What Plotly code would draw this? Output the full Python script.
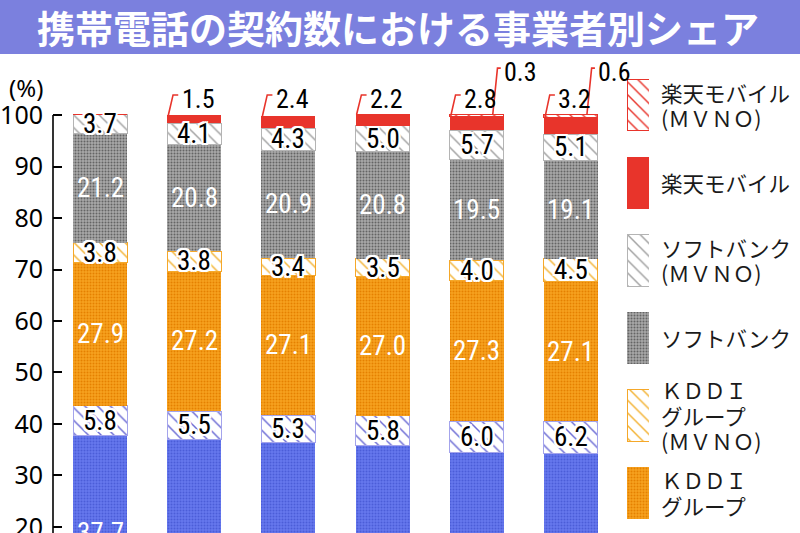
"""携帯電話の契約数における事業者別シェア — stacked share bars (Plotly)."""

import plotly.graph_objects as go

# --- data (% share, six periods left → right) -------------------------------
columns = [0, 1, 2, 3, 4, 5]

docomo = [37.7, 37.0, 36.4, 35.8, 34.5, 34.3]
docomo_mvno = [5.8, 5.5, 5.3, 5.8, 6.0, 6.2]
kddi = [27.9, 27.2, 27.1, 27.0, 27.3, 27.1]
kddi_mvno = [3.8, 3.8, 3.4, 3.5, 4.0, 4.5]
softbank = [21.2, 20.8, 20.9, 20.8, 19.5, 19.1]
softbank_mvno = [3.7, 4.1, 4.3, 5.0, 5.7, 5.1]
rakuten = [0, 1.5, 2.4, 2.2, 2.8, 3.2]
rakuten_mvno = [0, 0, 0, 0, 0.3, 0.6]

y_ticks = [20, 30, 40, 50, 60, 70, 80, 90, 100]

TITLE = "携帯電話の契約数における事業者別シェア"
NUM_FONT = "Liberation Sans Narrow, Roboto Condensed, Noto Sans, sans-serif"
JP_FONT = "Noto Sans CJK JP, Noto Sans, sans-serif"

# series bottom → top: (values, legend lines, style key)
SERIES = [
    (docomo, ["ＮＴＴ", "ドコモ"], "docomo"),
    (docomo_mvno, ["ＮＴＴ", "ドコモ", "(ＭＶＮＯ)"], "docomo_mvno"),
    (kddi, ["ＫＤＤＩ", "グループ"], "kddi"),
    (kddi_mvno, ["ＫＤＤＩ", "グループ", "(ＭＶＮＯ)"], "kddi_mvno"),
    (softbank, ["ソフトバンク"], "softbank"),
    (softbank_mvno, ["ソフトバンク", "(ＭＶＮＯ)"], "softbank_mvno"),
    (rakuten, ["楽天モバイル"], "rakuten"),
    (rakuten_mvno, ["楽天モバイル", "(ＭＶＮＯ)"], "rakuten_mvno"),
]


def _dots(bg, fg):
    return dict(color=bg, line=dict(width=0),
                pattern=dict(shape=".", bgcolor=bg, fgcolor=fg, size=3,
                             solidity=0.35, fillmode="replace"))


def _hatch(fg, edge):
    return dict(color="white", line=dict(width=1, color=edge),
                pattern=dict(shape="\\", bgcolor="white", fgcolor=fg, size=9,
                             solidity=0.16, fillmode="replace"))


STYLE = {
    "docomo": _dots("#6678ee", "#4b5dd8"),
    "docomo_mvno": _hatch("#6a6ad4", "#a4a4ec"),
    "kddi": _dots("#f7a21f", "#e58000"),
    "kddi_mvno": _hatch("#f3b232", "#f5a82a"),
    "softbank": _dots("#a8a8a8", "#646464"),
    "softbank_mvno": _hatch("#a0a0a0", "#b4b4b4"),
    "rakuten": dict(color="#e8342b", line=dict(width=0)),
    "rakuten_mvno": _hatch("#e8342b", "#e8342b"),
}

WHITE_EDGE = ("-2px -2px 0 #fff, 2px -2px 0 #fff, -2px 2px 0 #fff, 2px 2px 0 #fff, "
              "0 -2px 0 #fff, 0 2px 0 #fff, -2px 0 0 #fff, 2px 0 0 #fff")

fig = go.Figure()
annotations = []
shapes = []

bottoms = [0.0] * len(columns)
for values, _, key in SERIES:
    fig.add_trace(go.Bar(
        x=columns, y=values, width=0.573, marker=STYLE[key],
        name=key, hoverinfo="skip", xaxis="x", yaxis="y",
    ))
    for i, v in enumerate(values):
        mid = bottoms[i] + v / 2
        if v > 0 and not key.startswith("rakuten"):
            mvno = key.endswith("mvno")
            annotations.append(dict(
                x=columns[i], y=mid, xref="x", yref="y", text=f"{v:.1f}",
                showarrow=False,
                font=dict(family=NUM_FONT, size=27,
                          color="black" if mvno else "white",
                          shadow=WHITE_EDGE if mvno else "none"),
            ))
        bottoms[i] += v
    # leader labels above the bars for Rakuten
    if key.startswith("rakuten"):
        upper = key == "rakuten_mvno"
        for i, v in enumerate(values):
            if v <= 0:
                continue
            c = columns[i]
            top = bottoms[i]
            if upper:
                bx, tx, ex, lx, ly, ty = c + 0.17, c + 0.22, c + 0.255, c + 0.27, 109.1, 108.3
            else:
                bx, tx, ex, lx, ly, ty = c - 0.276, c - 0.225, c - 0.17, c - 0.155, 103.9, 103.2
            shapes.append(dict(
                type="path", xref="x", yref="y", layer="above",
                path=f"M {bx},{top} L {tx},{ly} L {ex},{ly}",
                line=dict(color="#e8342b", width=1.6),
            ))
            annotations.append(dict(
                x=lx, y=ty, xref="x", yref="y", text=f"{v:.1f}", showarrow=False,
                xanchor="left", yanchor="middle",
                font=dict(family=NUM_FONT, size=26, color="black"),
            ))

# --- legend: swatches as bars on their own small axis pair --------------------
legend_order = list(reversed(SERIES))  # top → bottom
for slot, (_, lines, key) in enumerate(legend_order):
    fig.add_trace(go.Bar(
        x=[1], y=[slot], orientation="h", width=0.67, marker=STYLE[key],
        xaxis="x2", yaxis="y2", hoverinfo="skip",
    ))
    n = len(lines)
    for j, line in enumerate(lines):
        annotations.append(dict(
            x=(659 - 53) / 747, xref="paper", y=slot, yref="y2",
            yshift=-((j - (n - 1) / 2) * 25.5), text=line, showarrow=False,
            xanchor="left", yanchor="middle",
            font=dict(family=JP_FONT, size=21.5, color="#1a1a1a"),
        ))

# title banner, y-axis line, (%) label
shapes.append(dict(type="rect", xref="paper", yref="paper",
                   x0=-53 / 747, x1=1.0, y0=(533 - 54) / 477, y1=533 / 477 + 0.01,
                   fillcolor="#7b80de", line=dict(width=0), layer="below"))
shapes.append(dict(type="line", xref="paper", yref="y", x0=0, x1=0,
                   y0=18.83, y1=100, line=dict(color="black", width=1.6)))
annotations.append(dict(
    x=(398 - 53) / 747, y=(533 - 27) / 477, xref="paper", yref="paper", text=TITLE,
    showarrow=False, xanchor="center", yanchor="middle",
    font=dict(family=JP_FONT, size=38, color="white", weight="bold"),
))
annotations.append(dict(
    x=-27 / 747, y=(533 - 87) / 477, xref="paper", yref="paper", text="(%)",
    showarrow=False, xanchor="center", yanchor="middle",
    font=dict(family="Noto Sans, sans-serif", size=24, color="black"),
))

fig.update_layout(
    width=800, height=533, margin=dict(l=53, r=0, t=56, b=0, autoexpand=False),
    barmode="stack", showlegend=False,
    plot_bgcolor="white", paper_bgcolor="white",
    xaxis=dict(domain=[0, 565 / 747], range=[-0.5, 5.5], visible=False,
               automargin=False),
    yaxis=dict(range=[18.83, 111.46], tickvals=y_ticks, ticks="inside", ticklen=9,
               tickwidth=1.6, tickcolor="black", showgrid=False, zeroline=False,
               showline=False, ticklabelstandoff=9, ticklabeloverflow="allow",
               automargin=False,
               tickfont=dict(family="Noto Sans, sans-serif", size=25, color="black")),
    xaxis2=dict(domain=[574 / 747, 596 / 747], range=[0, 1], visible=False,
                anchor="y2", automargin=False),
    yaxis2=dict(domain=[0, 1], range=[5.52, -0.632], visible=False, anchor="x2",
                automargin=False),
    shapes=shapes, annotations=annotations,
)

fig.write_html(
    "out.html",
    config={"displayModeBar": False},
    post_script="document.body.style.margin = '0';",
)
